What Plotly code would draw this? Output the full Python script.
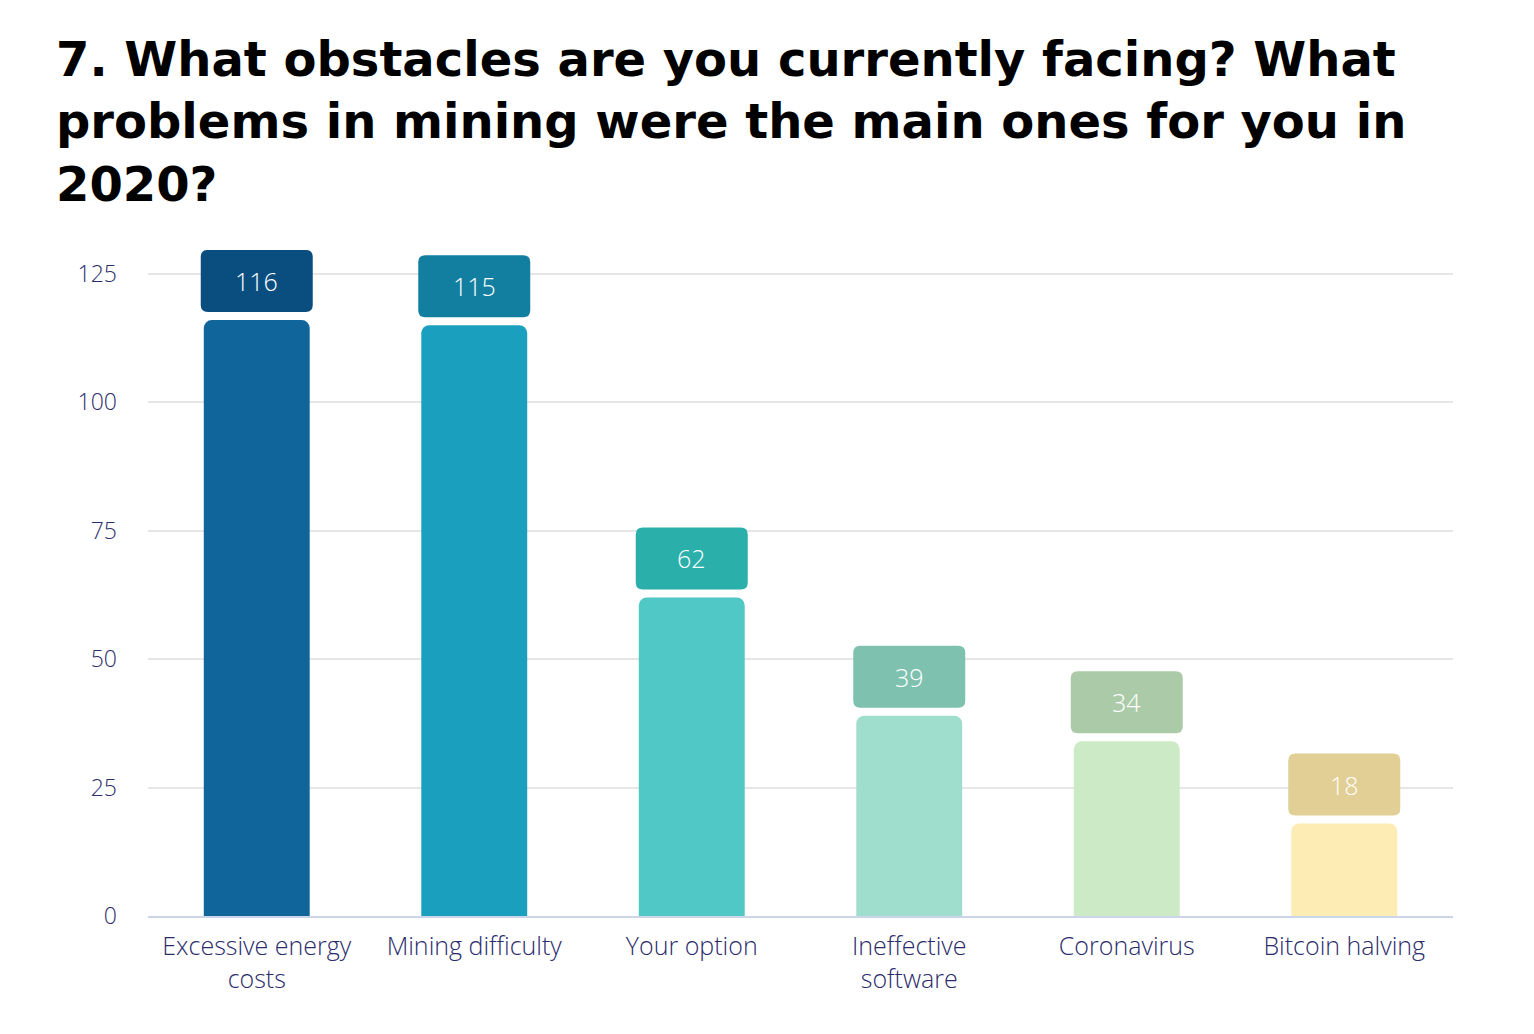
import plotly.graph_objects as go

categories = ["Excessive energy<br>costs", "Mining difficulty", "Your option",
              "Ineffective<br>software", "Coronavirus", "Bitcoin halving"]
values = [116, 115, 62, 39, 34, 18]
bar_colors = ["#10669A", "#1A9FBF", "#50C8C5", "#9FDECD", "#CBEAC5", "#FDECB3"]
box_colors = ["#0A4E80", "#127FA1", "#2AAFAA", "#7FC1AF", "#ABCBA8", "#E1CF95"]
y_ticks = [0, 25, 50, 75, 100, 125]
title_text = ("7. What obstacles are you currently facing? What<br>"
              "problems in mining were the main ones for you in<br>2020?")

idx = list(range(len(categories)))
Y_MAX = 131

fig = go.Figure()
fig.add_trace(go.Bar(
    x=idx, y=values, width=0.487,
    marker=dict(color=bar_colors, line=dict(width=0), cornerradius=8),
    hoverinfo="skip",
))

# rounded label boxes (pixel-sized, anchored at each bar's value)
w, b, t, r = 56, 8, 70, 7
path = (f"M {-w+r},{b} L {w-r},{b} Q {w},{b} {w},{b+r} L {w},{t-r} Q {w},{t} {w-r},{t} "
        f"L {-w+r},{t} Q {-w},{t} {-w},{t-r} L {-w},{b+r} Q {-w},{b} {-w+r},{b} Z")
shapes = []
annotations = []
for i, v, c in zip(idx, values, box_colors):
    shapes.append(dict(type="path", xref="x", yref="y", xsizemode="pixel", ysizemode="pixel",
                       xanchor=i, yanchor=v, path=path, fillcolor=c, line=dict(width=0), layer="above"))
    annotations.append(dict(x=i, y=v, xref="x", yref="y", text=str(v), showarrow=False,
                            yshift=(b + t) / 2,
                            font=dict(family="Open Sans", size=25, color="#FFFFFF", weight=300)))

# plot area in figure pixels
L, T, PW = 140, 235, 1305
PH = 642 * Y_MAX / 125
annotations.append(dict(
    text=title_text, xref="paper", yref="paper",
    x=(46 - L) / PW, y=1 + (T - 21) / PH, xanchor="left", yanchor="top", align="left",
    showarrow=False, font=dict(family="DejaVu Sans", size=48, color="#000000", weight="bold"),
))

fig.update_layout(
    width=1526, height=1026,
    margin=dict(l=L, r=1526 - L - PW, t=T, b=118),
    paper_bgcolor="#FFFFFF", plot_bgcolor="#FFFFFF",
    showlegend=False,
    shapes=shapes, annotations=annotations,
    xaxis=dict(
        range=[-0.5, len(categories) - 0.5], tickvals=idx, ticktext=categories,
        showgrid=False, zeroline=False, showline=True, linecolor="#CCD6EB", linewidth=2,
        ticks="", tickfont=dict(family="Open Sans", size=25, color="#2B2C6B", weight=300),
        ticklabelstandoff=7,
    ),
    yaxis=dict(
        range=[0, Y_MAX], tickvals=y_ticks, showgrid=True, gridcolor="#E6E6E6", gridwidth=2,
        zeroline=False, ticks="", tickfont=dict(family="Open Sans", size=23, color="#2B2C6B", weight=300),
        ticklabelstandoff=30,
    ),
)

fig.write_html("out.html")
